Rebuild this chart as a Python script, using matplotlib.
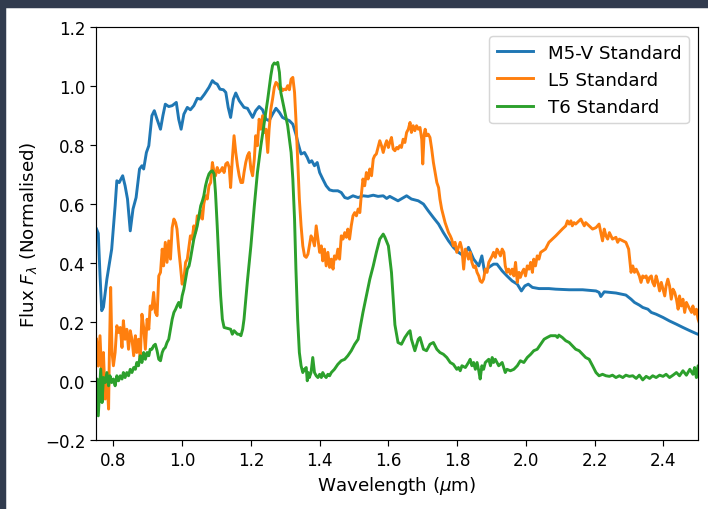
import numpy as np
import matplotlib
matplotlib.use("Agg")
import matplotlib.pyplot as plt
from matplotlib.patches import Rectangle

# values (wavelength in micron, normalised flux)
wl_m5 = [0.751, 0.756, 0.761, 0.766, 0.771, 0.781, 0.795, 0.805, 0.810, 0.817, 0.822, 0.827,
         0.834, 0.841, 0.849, 0.857, 0.866, 0.876, 0.883, 0.888, 0.896, 0.903, 0.912, 0.919,
         0.927, 0.937, 0.944, 0.951, 0.961, 0.971, 0.983, 0.990, 0.997, 1.005, 1.015, 1.024,
         1.034, 1.044, 1.054, 1.065, 1.078, 1.088, 1.095, 1.102, 1.110, 1.120, 1.127, 1.134,
         1.141, 1.149, 1.156, 1.166, 1.180, 1.190, 1.205, 1.214, 1.224, 1.234, 1.244, 1.253,
         1.263, 1.273, 1.283, 1.292, 1.302, 1.312, 1.322, 1.331, 1.338, 1.346, 1.356, 1.364,
         1.370, 1.377, 1.385, 1.393, 1.400, 1.409, 1.419, 1.429, 1.439, 1.453, 1.463, 1.473,
         1.482, 1.497, 1.512, 1.526, 1.541, 1.556, 1.570, 1.585, 1.595, 1.604, 1.628, 1.653,
         1.667, 1.687, 1.702, 1.716, 1.731, 1.746, 1.760, 1.775, 1.789, 1.804, 1.819, 1.833,
         1.848, 1.863, 1.872, 1.880, 1.892, 1.906, 1.916, 1.931, 1.945, 1.960, 1.975, 1.987,
         1.997, 2.007, 2.019, 2.038, 2.067, 2.087, 2.126, 2.165, 2.204, 2.213, 2.218, 2.228,
         2.262, 2.291, 2.306, 2.316, 2.330, 2.340, 2.355, 2.365, 2.379, 2.399, 2.418, 2.438,
         2.457, 2.477, 2.496, 2.508]
flux_m5 = [0.515, 0.500, 0.360, 0.238, 0.250, 0.345, 0.447, 0.594, 0.679, 0.673, 0.685, 0.696,
           0.662, 0.617, 0.509, 0.583, 0.622, 0.719, 0.730, 0.719, 0.775, 0.798, 0.900, 0.917,
           0.888, 0.854, 0.900, 0.939, 0.931, 0.934, 0.945, 0.888, 0.854, 0.905, 0.928, 0.920,
           0.934, 0.959, 0.956, 0.973, 0.996, 1.019, 1.011, 1.007, 0.990, 0.988, 0.979, 0.928,
           0.894, 0.956, 0.977, 0.951, 0.928, 0.925, 0.894, 0.917, 0.931, 0.920, 0.888, 0.883,
           0.905, 0.925, 0.911, 0.894, 0.888, 0.883, 0.871, 0.837, 0.803, 0.770, 0.775, 0.758,
           0.741, 0.747, 0.730, 0.741, 0.707, 0.685, 0.662, 0.648, 0.645, 0.645, 0.639, 0.622,
           0.619, 0.628, 0.622, 0.628, 0.626, 0.630, 0.626, 0.628, 0.619, 0.626, 0.611, 0.628,
           0.617, 0.611, 0.600, 0.577, 0.554, 0.532, 0.503, 0.475, 0.453, 0.436, 0.424, 0.453,
           0.413, 0.390, 0.424, 0.368, 0.385, 0.396, 0.396, 0.373, 0.356, 0.339, 0.328, 0.305,
           0.322, 0.328, 0.317, 0.313, 0.313, 0.311, 0.309, 0.309, 0.305, 0.300, 0.286, 0.302,
           0.298, 0.291, 0.277, 0.266, 0.257, 0.249, 0.243, 0.232, 0.226, 0.215, 0.203, 0.192,
           0.181, 0.170, 0.160, 0.155]

wl_l5 = [0.751, 0.756, 0.761, 0.766, 0.771, 0.776, 0.781, 0.786, 0.788, 0.792, 0.796, 0.800,
         0.805, 0.810, 0.815, 0.820, 0.825, 0.829, 0.834, 0.839, 0.844, 0.849, 0.854, 0.859,
         0.864, 0.868, 0.873, 0.878, 0.883, 0.888, 0.893, 0.898, 0.903, 0.907, 0.912, 0.917,
         0.922, 0.927, 0.932, 0.937, 0.942, 0.946, 0.951, 0.956, 0.961, 0.966, 0.971, 0.976,
         0.981, 0.985, 0.990, 0.995, 1.000, 1.005, 1.010, 1.015, 1.024, 1.029, 1.034, 1.039,
         1.044, 1.049, 1.054, 1.059, 1.063, 1.068, 1.073, 1.078, 1.083, 1.088, 1.093, 1.097,
         1.102, 1.107, 1.112, 1.117, 1.122, 1.127, 1.132, 1.137, 1.141, 1.146, 1.151, 1.156,
         1.161, 1.166, 1.171, 1.176, 1.180, 1.185, 1.190, 1.195, 1.200, 1.205, 1.210, 1.214,
         1.219, 1.224, 1.229, 1.234, 1.239, 1.244, 1.249, 1.253, 1.258, 1.263, 1.268, 1.273,
         1.278, 1.283, 1.287, 1.292, 1.297, 1.302, 1.307, 1.312, 1.317, 1.322, 1.327, 1.331,
         1.336, 1.341, 1.346, 1.351, 1.356, 1.361, 1.366, 1.370, 1.375, 1.380, 1.385, 1.390,
         1.395, 1.400, 1.405, 1.409, 1.414, 1.419, 1.424, 1.429, 1.434, 1.439, 1.443, 1.448,
         1.453, 1.458, 1.463, 1.468, 1.473, 1.478, 1.482, 1.487, 1.492, 1.497, 1.502, 1.507,
         1.512, 1.517, 1.521, 1.526, 1.531, 1.536, 1.541, 1.546, 1.551, 1.556, 1.560, 1.565,
         1.570, 1.575, 1.580, 1.585, 1.590, 1.595, 1.600, 1.604, 1.609, 1.614, 1.619, 1.624,
         1.628, 1.633, 1.638, 1.643, 1.648, 1.653, 1.658, 1.663, 1.667, 1.672, 1.677, 1.682,
         1.687, 1.692, 1.697, 1.700, 1.704, 1.707, 1.711, 1.716, 1.721, 1.726, 1.731, 1.736,
         1.741, 1.746, 1.750, 1.755, 1.760, 1.765, 1.770, 1.775, 1.780, 1.784, 1.789, 1.794,
         1.799, 1.804, 1.809, 1.814, 1.819, 1.824, 1.828, 1.833, 1.838, 1.843, 1.848, 1.853,
         1.858, 1.863, 1.867, 1.872, 1.877, 1.882, 1.887, 1.892, 1.897, 1.902, 1.906, 1.911,
         1.916, 1.921, 1.926, 1.931, 1.936, 1.940, 1.945, 1.950, 1.955, 1.960, 1.965, 1.970,
         1.975, 1.980, 1.984, 1.989, 1.994, 1.999, 2.004, 2.009, 2.014, 2.019, 2.023, 2.028,
         2.033, 2.038, 2.043, 2.057, 2.067, 2.077, 2.087, 2.096, 2.106, 2.116, 2.121, 2.126,
         2.131, 2.135, 2.140, 2.145, 2.155, 2.160, 2.165, 2.170, 2.174, 2.184, 2.194, 2.204,
         2.213, 2.218, 2.223, 2.228, 2.233, 2.238, 2.243, 2.252, 2.262, 2.267, 2.272, 2.282,
         2.291, 2.299, 2.306, 2.311, 2.316, 2.321, 2.330, 2.335, 2.340, 2.345, 2.350, 2.355,
         2.360, 2.365, 2.369, 2.374, 2.379, 2.384, 2.389, 2.394, 2.399, 2.404, 2.408, 2.413,
         2.418, 2.423, 2.428, 2.433, 2.438, 2.443, 2.447, 2.452, 2.457, 2.462, 2.467, 2.472,
         2.477, 2.482, 2.486, 2.491, 2.496, 2.501, 2.506]
flux_l5 = [0.141, 0.050, 0.153, 0.017, 0.096, -0.062, 0.006, -0.096, 0.073, 0.317, 0.096, 0.051,
           0.096, 0.187, 0.164, 0.181, 0.113, 0.204, 0.141, 0.175, 0.107, 0.170, 0.141, 0.085,
           0.153, 0.096, 0.141, 0.073, 0.226, 0.181, 0.107, 0.209, 0.175, 0.254, 0.243, 0.300,
           0.232, 0.221, 0.356, 0.368, 0.447, 0.390, 0.470, 0.402, 0.475, 0.413, 0.520, 0.549,
           0.537, 0.515, 0.447, 0.390, 0.328, 0.345, 0.402, 0.413, 0.492, 0.481, 0.526, 0.503,
           0.560, 0.549, 0.577, 0.549, 0.600, 0.628, 0.617, 0.662, 0.673, 0.741, 0.707, 0.696,
           0.724, 0.707, 0.713, 0.724, 0.707, 0.736, 0.741, 0.724, 0.656, 0.753, 0.832, 0.775,
           0.730, 0.696, 0.673, 0.673, 0.707, 0.741, 0.764, 0.775, 0.719, 0.696, 0.753, 0.832,
           0.798, 0.888, 0.854, 0.900, 0.843, 0.854, 0.775, 0.854, 0.922, 0.956, 0.996, 1.013,
           1.007, 0.990, 0.996, 0.985, 0.990, 0.988, 1.002, 0.988, 1.024, 1.030, 0.979, 0.888,
           0.753, 0.617, 0.526, 0.458, 0.424, 0.419, 0.430, 0.458, 0.492, 0.481, 0.458, 0.526,
           0.481, 0.436, 0.458, 0.407, 0.447, 0.390, 0.436, 0.385, 0.413, 0.379, 0.424, 0.413,
           0.447, 0.413, 0.492, 0.481, 0.503, 0.487, 0.515, 0.481, 0.526, 0.560, 0.571, 0.560,
           0.583, 0.571, 0.628, 0.685, 0.662, 0.707, 0.685, 0.719, 0.696, 0.753, 0.764, 0.770,
           0.792, 0.815, 0.798, 0.775, 0.798, 0.815, 0.792, 0.809, 0.826, 0.787, 0.781, 0.792,
           0.787, 0.798, 0.792, 0.820, 0.809, 0.843, 0.854, 0.877, 0.843, 0.866, 0.849, 0.866,
           0.854, 0.860, 0.820, 0.736, 0.837, 0.854, 0.832, 0.837, 0.826, 0.787, 0.741, 0.707,
           0.673, 0.656, 0.617, 0.583, 0.560, 0.537, 0.520, 0.503, 0.492, 0.481, 0.458, 0.470,
           0.436, 0.453, 0.470, 0.447, 0.379, 0.447, 0.436, 0.413, 0.436, 0.402, 0.385, 0.390,
           0.368, 0.356, 0.339, 0.334, 0.345, 0.379, 0.368, 0.402, 0.413, 0.424, 0.436, 0.419,
           0.447, 0.436, 0.424, 0.447, 0.436, 0.390, 0.368, 0.379, 0.362, 0.379, 0.356, 0.402,
           0.334, 0.368, 0.351, 0.368, 0.379, 0.356, 0.390, 0.379, 0.402, 0.368, 0.413, 0.390,
           0.424, 0.413, 0.436, 0.447, 0.470, 0.481, 0.492, 0.503, 0.515, 0.526, 0.543, 0.532,
           0.543, 0.526, 0.537, 0.532, 0.543, 0.549, 0.537, 0.526, 0.537, 0.526, 0.515, 0.520,
           0.532, 0.503, 0.475, 0.515, 0.492, 0.481, 0.503, 0.481, 0.487, 0.470, 0.481, 0.475,
           0.470, 0.447, 0.368, 0.390, 0.368, 0.379, 0.356, 0.334, 0.356, 0.351, 0.356, 0.334,
           0.351, 0.356, 0.334, 0.322, 0.356, 0.334, 0.305, 0.334, 0.311, 0.288, 0.322, 0.345,
           0.322, 0.277, 0.311, 0.300, 0.277, 0.243, 0.288, 0.254, 0.277, 0.232, 0.266, 0.254,
           0.243, 0.232, 0.254, 0.226, 0.243, 0.209, 0.192]

wl_t6 = [0.751, 0.753, 0.756, 0.759, 0.763, 0.767, 0.771, 0.776, 0.781, 0.786, 0.790, 0.795,
         0.800, 0.805, 0.810, 0.815, 0.820, 0.825, 0.829, 0.834, 0.839, 0.844, 0.849, 0.854,
         0.859, 0.864, 0.868, 0.873, 0.878, 0.883, 0.888, 0.893, 0.898, 0.903, 0.907, 0.912,
         0.917, 0.922, 0.927, 0.932, 0.937, 0.942, 0.946, 0.951, 0.956, 0.961, 0.966, 0.971,
         0.976, 0.981, 0.985, 0.990, 0.995, 1.000, 1.005, 1.010, 1.015, 1.020, 1.024, 1.029,
         1.034, 1.039, 1.044, 1.049, 1.054, 1.059, 1.063, 1.068, 1.073, 1.078, 1.083, 1.088,
         1.093, 1.097, 1.102, 1.107, 1.112, 1.117, 1.122, 1.132, 1.141, 1.146, 1.151, 1.156,
         1.161, 1.166, 1.171, 1.176, 1.180, 1.190, 1.200, 1.210, 1.219, 1.229, 1.239, 1.249,
         1.258, 1.263, 1.268, 1.273, 1.278, 1.283, 1.287, 1.297, 1.307, 1.317, 1.322, 1.327,
         1.331, 1.336, 1.341, 1.346, 1.351, 1.356, 1.361, 1.364, 1.367, 1.370, 1.375, 1.380,
         1.385, 1.390, 1.395, 1.400, 1.405, 1.409, 1.414, 1.419, 1.424, 1.429, 1.434, 1.443,
         1.453, 1.463, 1.473, 1.482, 1.492, 1.502, 1.512, 1.517, 1.526, 1.536, 1.546, 1.556,
         1.565, 1.575, 1.585, 1.590, 1.600, 1.609, 1.619, 1.628, 1.638, 1.648, 1.658, 1.663,
         1.667, 1.677, 1.687, 1.692, 1.702, 1.711, 1.721, 1.731, 1.741, 1.750, 1.760, 1.770,
         1.780, 1.789, 1.799, 1.804, 1.809, 1.814, 1.824, 1.833, 1.838, 1.843, 1.848, 1.853,
         1.858, 1.863, 1.867, 1.872, 1.877, 1.882, 1.892, 1.897, 1.902, 1.906, 1.911, 1.921,
         1.931, 1.940, 1.945, 1.955, 1.965, 1.975, 1.984, 1.994, 2.004, 2.014, 2.023, 2.033,
         2.043, 2.053, 2.062, 2.072, 2.087, 2.092, 2.096, 2.106, 2.116, 2.126, 2.135, 2.145,
         2.155, 2.165, 2.174, 2.184, 2.194, 2.204, 2.213, 2.223, 2.233, 2.243, 2.252, 2.262,
         2.272, 2.282, 2.291, 2.301, 2.311, 2.321, 2.330, 2.340, 2.350, 2.360, 2.369, 2.379,
         2.389, 2.399, 2.408, 2.418, 2.428, 2.438, 2.447, 2.457, 2.467, 2.477, 2.486, 2.491,
         2.496, 2.501, 2.506]
flux_t6 = [-0.017, 0.006, -0.119, -0.051, 0.040, -0.074, 0.011, -0.006, 0.028, -0.017, 0.017, -0.006,
           0.006, -0.017, 0.017, 0.000, 0.017, 0.006, 0.028, 0.011, 0.028, 0.017, 0.039, 0.028,
           0.045, 0.039, 0.062, 0.051, 0.085, 0.062, 0.096, 0.073, 0.096, 0.085, 0.107, 0.107,
           0.119, 0.124, 0.102, 0.073, 0.068, 0.096, 0.107, 0.113, 0.130, 0.141, 0.175, 0.209,
           0.232, 0.243, 0.254, 0.266, 0.249, 0.288, 0.311, 0.345, 0.379, 0.390, 0.413, 0.447,
           0.481, 0.503, 0.526, 0.560, 0.594, 0.611, 0.628, 0.662, 0.685, 0.702, 0.710, 0.713,
           0.702, 0.639, 0.526, 0.402, 0.288, 0.209, 0.181, 0.178, 0.175, 0.158, 0.170, 0.164,
           0.158, 0.158, 0.153, 0.175, 0.209, 0.340, 0.458, 0.594, 0.707, 0.798, 0.877, 0.956,
           1.036, 1.070, 1.079, 1.075, 1.081, 1.047, 0.979, 0.922, 0.866, 0.775, 0.685, 0.549,
           0.379, 0.209, 0.096, 0.051, 0.028, 0.039, 0.045, 0.000, 0.028, 0.011, 0.028, 0.079,
           0.028, 0.017, 0.011, 0.022, 0.011, 0.028, 0.017, 0.011, 0.022, 0.017, 0.028, 0.039,
           0.056, 0.068, 0.073, 0.085, 0.102, 0.124, 0.141, 0.175, 0.232, 0.288, 0.345, 0.390,
           0.436, 0.481, 0.498, 0.487, 0.458, 0.368, 0.190, 0.130, 0.124, 0.147, 0.164, 0.170,
           0.141, 0.102, 0.141, 0.147, 0.107, 0.102, 0.124, 0.130, 0.107, 0.096, 0.090, 0.079,
           0.062, 0.056, 0.039, 0.045, 0.034, 0.051, 0.045, 0.062, 0.073, 0.051, 0.062, 0.039,
           0.062, 0.034, 0.006, 0.051, 0.039, 0.062, 0.073, 0.051, 0.079, 0.062, 0.073, 0.051,
           0.062, 0.028, 0.039, 0.034, 0.039, 0.051, 0.068, 0.062, 0.079, 0.090, 0.102, 0.107,
           0.124, 0.141, 0.147, 0.153, 0.153, 0.147, 0.155, 0.147, 0.136, 0.130, 0.119, 0.107,
           0.102, 0.090, 0.079, 0.073, 0.051, 0.028, 0.017, 0.022, 0.017, 0.015, 0.019, 0.011,
           0.017, 0.011, 0.019, 0.015, 0.017, 0.008, 0.019, 0.003, 0.015, 0.008, 0.017, 0.011,
           0.019, 0.015, 0.022, 0.011, 0.019, 0.028, 0.017, 0.034, 0.019, 0.039, 0.022, 0.045,
           0.011, 0.051, -0.006]

series = [
    (wl_m5, flux_m5, "M5-V Standard"),
    (wl_l5, flux_l5, "L5 Standard"),
    (wl_t6, flux_t6, "T6 Standard"),
]

DPI = 105
fig = plt.figure(figsize=(708 / DPI, 510 / DPI), dpi=DPI)
ax = fig.add_axes([0.1359, 0.1359, 0.8496, 0.8086])

for wl, flux, name in series:
    ax.plot(np.array(wl), np.array(flux), lw=2, label=name)

ax.set_xlim(0.75, 2.5)
ax.set_ylim(-0.2, 1.2)
ax.set_xticks(np.arange(0.8, 2.41, 0.2))
ax.set_yticks(np.arange(-0.2, 1.21, 0.2))
ax.tick_params(labelsize=11.5, length=4)
ax.set_xlabel(r"Wavelength ($\mu$m)", fontsize=12.5)
ax.set_ylabel(r"Flux $F_\lambda$ (Normalised)", fontsize=12.5)
ax.legend(loc="upper right", fontsize=12.5)

# dark frame of the screenshot along the top and left edge
frame = "#313b4e"
fig.patches.append(Rectangle((0, 1 - 8 / 510), 1, 8 / 510, transform=fig.transFigure,
                             color=frame, zorder=10))
fig.patches.append(Rectangle((0, 0), 5 / 708, 1, transform=fig.transFigure,
                             color=frame, zorder=10))

fig.savefig("out.png", dpi=DPI)
